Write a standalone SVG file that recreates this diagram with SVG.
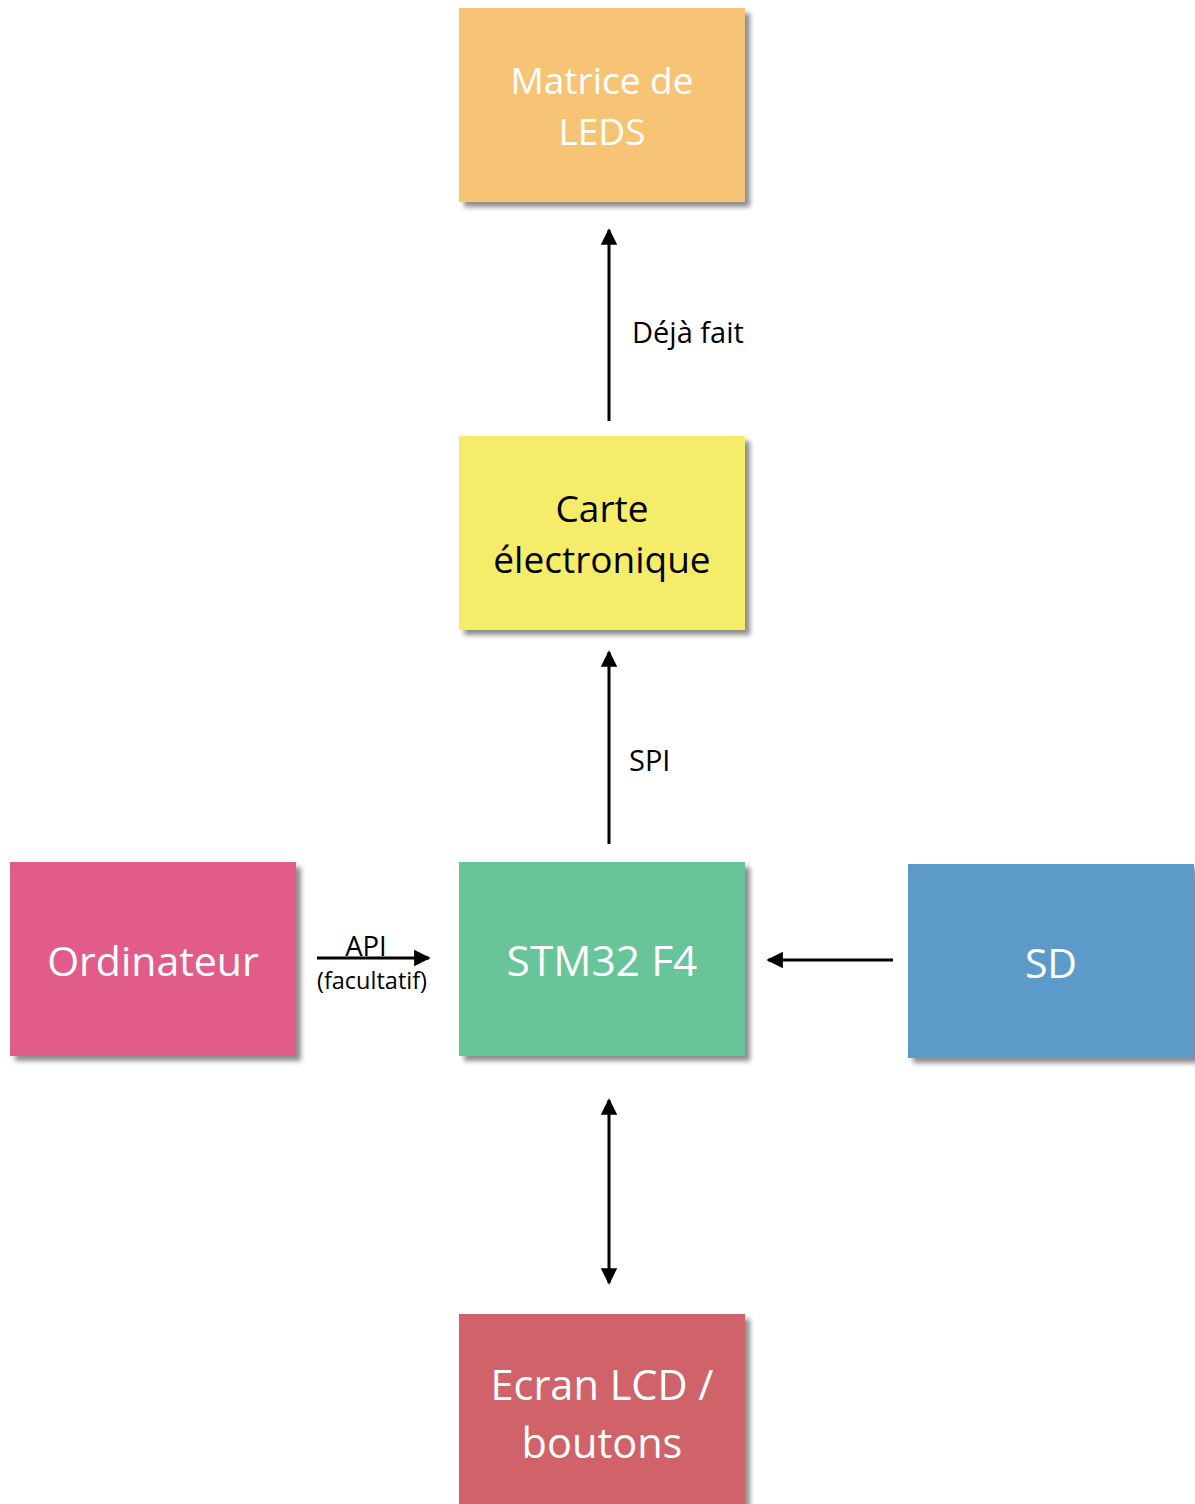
<svg xmlns="http://www.w3.org/2000/svg" width="1195" height="1504" viewBox="0 0 1195 1504">
<defs>
<filter id="sh" x="-10%" y="-10%" width="125%" height="125%">
<feGaussianBlur in="SourceAlpha" stdDeviation="2.5"/>
<feOffset dx="5" dy="5" result="b"/>
<feComponentTransfer><feFuncA type="linear" slope="0.45"/></feComponentTransfer>
<feMerge><feMergeNode/><feMergeNode in="SourceGraphic"/></feMerge>
</filter>
<marker id="ah" viewBox="0 0 10 10" refX="9" refY="5" markerWidth="5.5" markerHeight="5.5" orient="auto-start-reverse" markerUnits="strokeWidth">
<path d="M0,0 L10,5 L0,10 Z" fill="#000"/>
</marker>
<style>
.box{filter:url(#sh)}
.t{font-family:"Open Sans","Noto Sans",sans-serif;text-anchor:middle}
.w{fill:#fff}
.k{fill:#000}
.lbl{font-family:"Open Sans","Noto Sans",sans-serif;fill:#000}
.c{stroke:#000;stroke-width:3;fill:none}
</style>
</defs>
<rect width="1195" height="1504" fill="#fff"/>
<g id="matrice">
<rect class="box" x="459" y="8" width="286" height="194" fill="#F7C475"/>
<text class="t w" font-size="37" x="602" y="94">Matrice de</text>
<text class="t w" font-size="37" x="602" y="145">LEDS</text>
</g>
<g id="carte">
<rect class="box" x="459" y="436" width="286" height="194" fill="#F5ED6A"/>
<text class="t k" font-size="37" x="602" y="522">Carte</text>
<text class="t k" font-size="37" x="602" y="573">électronique</text>
</g>
<g id="stm32">
<rect class="box" x="459" y="862" width="286" height="194" fill="#68C499"/>
<text class="t w" font-size="42.5" x="602" y="976">STM32 F4</text>
</g>
<g id="ordinateur">
<rect class="box" x="10" y="862" width="286" height="194" fill="#E25C89"/>
<text class="t w" font-size="41" x="153" y="976">Ordinateur</text>
</g>
<g id="sd">
<rect class="box" x="908" y="864" width="286" height="194" fill="#5B9AC9"/>
<text class="t w" font-size="41" x="1051" y="978">SD</text>
</g>
<g id="ecran">
<rect class="box" x="459" y="1314" width="286" height="200" fill="#CF6369"/>
<text class="t w" font-size="41.5" x="602" y="1400">Ecran LCD /</text>
<text class="t w" font-size="41.5" x="602" y="1458">boutons</text>
</g>
<g id="connectors">
<line class="c" x1="609" y1="421" x2="609" y2="230" marker-end="url(#ah)"/>
<line class="c" x1="609" y1="844" x2="609" y2="652" marker-end="url(#ah)"/>
<line class="c" x1="317" y1="958" x2="429" y2="958" marker-end="url(#ah)"/>
<line class="c" x1="893" y1="960" x2="768" y2="960" marker-end="url(#ah)"/>
<line class="c" x1="609" y1="1100" x2="609" y2="1283" marker-start="url(#ah)" marker-end="url(#ah)"/>
<text class="lbl" x="632" y="343" font-size="29">Déjà fait</text>
<text class="lbl" x="629" y="771" font-size="29">SPI</text>
<text class="lbl" x="366" y="956" text-anchor="middle" font-size="27.5">API</text>
<text class="lbl" x="372" y="989" text-anchor="middle" font-size="23.5">(facultatif)</text>
</g>
</svg>
